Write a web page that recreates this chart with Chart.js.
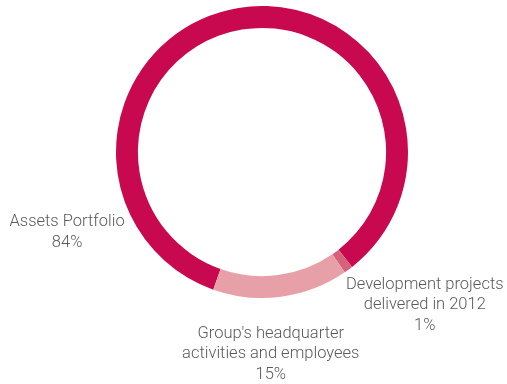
<!DOCTYPE html>
<html>
<head>
<meta charset="utf-8">
<script src="https://cdn.jsdelivr.net/npm/chart.js@4/dist/chart.umd.min.js"></script>
<style>
  html, body { margin: 0; padding: 0; background: #fff; }
  #wrap { width: 507px; height: 384px; }
</style>
</head>
<body>
<div id="wrap"><canvas id="myChart"></canvas></div>
<script>
// DATA
const categories = ['Assets Portfolio', 'Development projects delivered in 2012', "Group's headquarter activities and employees"];
const labelLines = [
  ['Assets Portfolio'],
  ['Development projects', 'delivered in 2012'],
  ["Group's headquarter", 'activities and employees']
];
const shares = [84, 1, 15];
const colors = ['#c8084f', '#d7627c', '#e8a0a8'];

// label placement relative to the doughnut centre (in radii)
const labelSpots = [
  { dx: -1.335, dy: 0.48 },
  { dx: 1.115, dy: 0.91 },
  { dx: 0.06, dy: 1.245 }
];

const labelPlugin = {
  id: 'sliceLabels',
  afterDraw(chart) {
    const ctx = chart.ctx;
    const arc = chart.getDatasetMeta(0).data[0];
    const cx = arc.x, cy = arc.y, r = arc.outerRadius;
    ctx.save();
    ctx.fillStyle = '#5a5a5a';
    ctx.font = '300 16.5px "Roboto"';
    ctx.textAlign = 'center';
    ctx.textBaseline = 'middle';
    labelLines.forEach((lines, i) => {
      const all = lines.concat([shares[i] + '%']);
      const x = cx + labelSpots[i].dx * r;
      const y0 = cy + labelSpots[i].dy * r;
      all.forEach((t, k) => ctx.fillText(t, x, y0 + k * 20.5));
    });
    ctx.restore();
  }
};

new Chart(document.getElementById('myChart').getContext('2d'), {
  type: 'doughnut',
  data: {
    labels: categories,
    datasets: [{
      data: shares,
      backgroundColor: colors,
      borderWidth: 0
    }]
  },
  options: {
    responsive: true,
    maintainAspectRatio: false,
    animation: false,
    cutout: '85%',
    rotation: 199.5,
    layout: { padding: { left: 116, right: 99, top: 6, bottom: 86 } },
    plugins: {
      legend: { display: false },
      tooltip: { enabled: false }
    }
  },
  plugins: [labelPlugin]
});
</script>
</body>
</html>
